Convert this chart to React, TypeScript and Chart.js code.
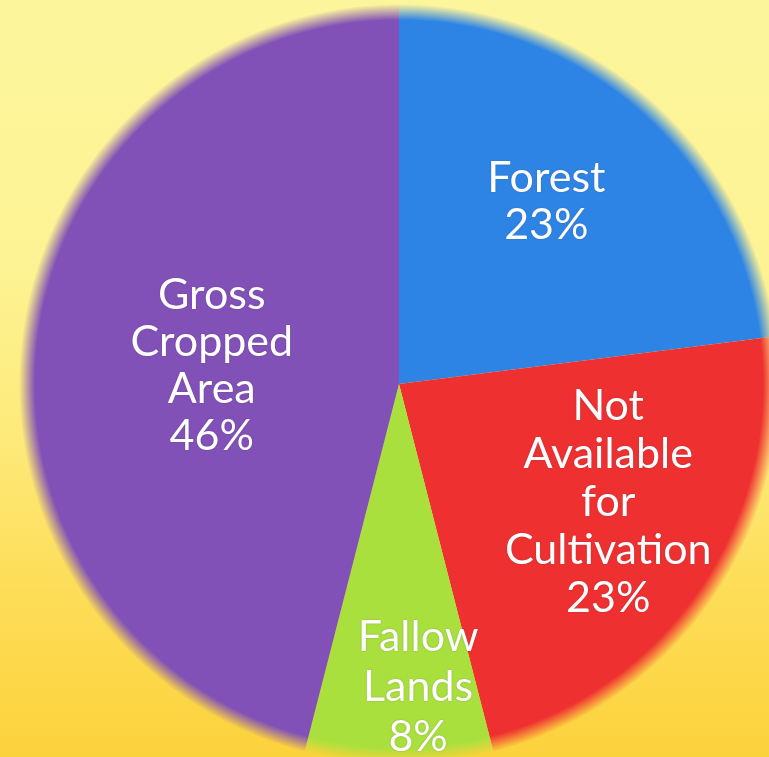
import React, { useEffect, useRef } from "react";
import { Chart, registerables } from "chart.js";

Chart.register(...registerables);

const categories = ["Forest", "Not Available for Cultivation", "Fallow Lands", "Gross Cropped Area"];
const values = [23, 23, 8, 46];
const labelLines = [["Forest"], ["Not", "Available", "for", "Cultivation"], ["Fallow", "Lands"], ["Gross", "Cropped", "Area"]];

const sliceColors = ["#2e84e5", "#ee3130", "#a9e03e", "#8151b7"];
// label placement: fraction of radius and angle offset (deg) from slice middle
const labelRadiusFrac = [0.616, 0.632, 0.8, 0.495];
const labelAngleOffset = [-2.4, -4.8, -3.6, -1.7];
const labelLineHeight = [47, 48, 50, 47];

const edgeFadePlugin = {
  id: "edgeFade",
  afterDatasetsDraw(chart: any) {
    const meta = chart.getDatasetMeta(0);
    const arc = meta.data[0];
    if (!arc) return;
    const { x, y, outerRadius } = arc;
    const ctx = chart.ctx;
    ctx.save();
    ctx.globalCompositeOperation = "destination-in";
    const g = ctx.createRadialGradient(x, y, outerRadius - 16, x, y, outerRadius);
    g.addColorStop(0, "rgba(0,0,0,1)");
    g.addColorStop(1, "rgba(0,0,0,0)");
    ctx.fillStyle = g;
    ctx.fillRect(0, 0, chart.width, chart.height);
    ctx.restore();
  },
};

const labelPlugin = {
  id: "sliceLabels",
  afterDraw(chart: any) {
    const ctx = chart.ctx;
    const meta = chart.getDatasetMeta(0);
    const total = values.reduce((a, b) => a + b, 0);
    meta.data.forEach((arc: any, i: number) => {
      const mid = (arc.startAngle + arc.endAngle) / 2 + (labelAngleOffset[i] * Math.PI) / 180;
      const r = arc.outerRadius * labelRadiusFrac[i];
      const cx = arc.x + Math.cos(mid) * r;
      const cy = arc.y + Math.sin(mid) * r;
      const lines = [...labelLines[i], Math.round((values[i] / total) * 100) + "%"];
      const lh = labelLineHeight[i];
      ctx.save();
      ctx.font = "43px Lato, 'DejaVu Sans', sans-serif";
      ctx.fillStyle = "#ffffff";
      ctx.textAlign = "center";
      ctx.textBaseline = "middle";
      ctx.shadowColor = "rgba(60,40,80,0.35)";
      ctx.shadowBlur = 1.5;
      const start = cy - ((lines.length - 1) * lh) / 2;
      lines.forEach((t, k) => ctx.fillText(t, cx, start + k * lh));
      ctx.restore();
    });
  },
};

export default function App() {
  const ref = useRef<HTMLCanvasElement | null>(null);
  useEffect(() => {
    if (!ref.current) return;
    const chart = new Chart(ref.current, {
      type: "pie",
      data: {
        labels: categories,
        datasets: [
          {
            data: values,
            backgroundColor: sliceColors,
            borderWidth: 0,
          },
        ],
      },
      options: {
        responsive: false,
        animation: false,
        devicePixelRatio: 1,
        layout: { padding: 4 },
        plugins: { legend: { display: false }, tooltip: { enabled: false } },
      },
      plugins: [edgeFadePlugin, labelPlugin],
    });
    return () => chart.destroy();
  }, []);
  return (
    <div
      style={{
        position: "fixed",
        left: 0,
        top: 0,
        width: 769,
        height: 757,
        overflow: "hidden",
        background:
          "linear-gradient(to bottom, #fdf59c 0%, #fdf394 35%, #fdea7a 58%, #fddd58 78%, #fcd23c 100%)",
      }}
    >
      <canvas
        ref={ref}
        width={798}
        height={768}
        style={{ position: "absolute", left: 0, top: 0, width: 798, height: 768, display: "block" }}
      />
    </div>
  );
}
